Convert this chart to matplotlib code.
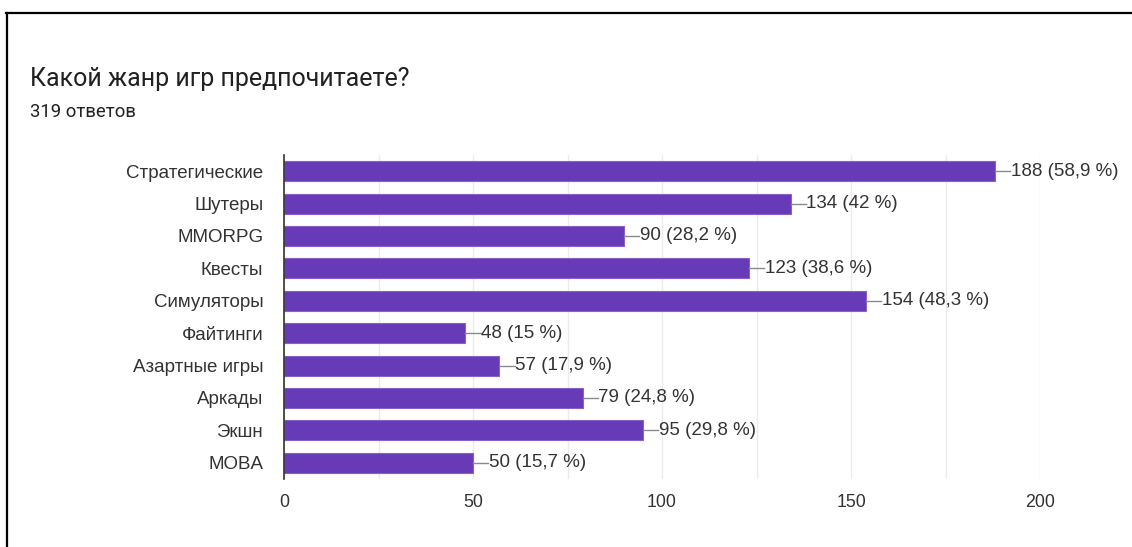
import matplotlib.pyplot as plt
from matplotlib.lines import Line2D

plt.rcParams['font.family'] = ['Liberation Sans', 'DejaVu Sans']

genres = ['Стратегические', 'Шутеры', 'MMORPG', 'Квесты', 'Симуляторы',
          'Файтинги', 'Азартные игры', 'Аркады', 'Экшн', 'MOBA']
counts = [188, 134, 90, 123, 154, 48, 57, 79, 95, 50]
percents = ['58,9', '42', '28,2', '38,6', '48,3', '15', '17,9', '24,8', '29,8', '15,7']
xticks = [0, 50, 100, 150, 200]

W, H = 1132, 547
fig = plt.figure(figsize=(W / 100, H / 100), dpi=100)

# frame of the screenshot (top and left edges only)
fig.add_artist(Line2D([6 / W, 1], [1 - 12.5 / H, 1 - 12.5 / H], color='black', lw=1.6))
fig.add_artist(Line2D([6.5 / W, 6.5 / W], [0, 1 - 12.5 / H], color='black', lw=1.6))

fig.text(30 / W, 1 - 79 / H, 'Какой жанр игр предпочитаете?', fontsize=18,
         color='#212121', va='center', family=['Roboto', 'DejaVu Sans'])
fig.text(30 / W, 1 - 112 / H, '319 ответов', fontsize=13.3, color='#212121',
         va='center', family=['Roboto', 'DejaVu Sans'])

ax = fig.add_axes([284 / W, 1 - 479 / H, (1040 - 284) / W, (479 - 155) / H])
y = list(range(len(genres)))
ax.barh(y, counts, height=0.62, color='#673ab7', edgecolor='#8661c8', lw=0.8, zorder=3)
ax.set_ylim(len(genres) - 0.5, -0.5)
ax.set_xlim(0, 200)
ax.set_yticks(y)
ax.set_yticklabels(genres)
ax.set_xticks(xticks)
ax.set_xticks(range(0, 201, 25), minor=True)
ax.tick_params(axis='both', which='both', length=0, labelsize=13.5, labelcolor='#333333')
ax.tick_params(axis='x', labelsize=12.8)
ax.tick_params(axis='y', pad=15)
ax.tick_params(axis='x', pad=11)
ax.grid(axis='x', which='both', color='#ebebeb', lw=1, zorder=0)
for s in ['top', 'right', 'bottom']:
    ax.spines[s].set_visible(False)
ax.spines['left'].set_color('#333333')
ax.spines['left'].set_linewidth(1.2)
ax.spines['left'].set_zorder(4)

for i, (c, p) in enumerate(zip(counts, percents)):
    ax.plot([c, c + 4], [i, i], color='#8a8a8a', lw=1, zorder=3, clip_on=False)
    ax.text(c + 4.2, i, f'{c} ({p} %)', va='center', ha='left', fontsize=13.5,
            color='#333333', clip_on=False)

fig.savefig('out.png', dpi=100)
